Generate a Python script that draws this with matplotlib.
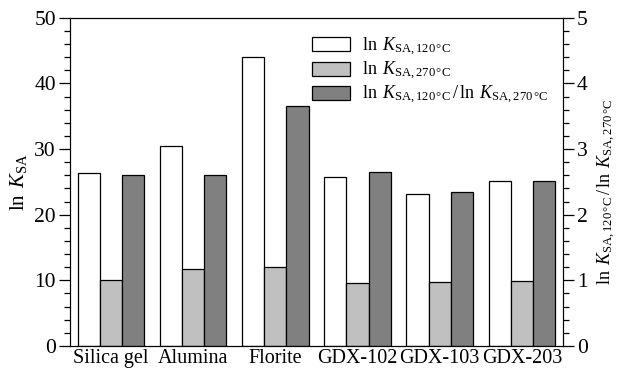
import numpy as np
import matplotlib
matplotlib.use("Agg")
import matplotlib.pyplot as plt
from matplotlib.ticker import MultipleLocator

plt.rcParams['font.family'] = 'Liberation Serif'
plt.rcParams['mathtext.fontset'] = 'custom'
plt.rcParams['mathtext.rm'] = 'Liberation Serif'
plt.rcParams['mathtext.it'] = 'Liberation Serif:italic'

sorbents = ["Silica gel", "Alumina", "Florite", "GDX-102", "GDX-103", "GDX-203"]
lnK_120 = [26.3, 30.5, 44.1, 25.7, 23.2, 25.1]
lnK_270 = [10.1, 11.7, 12.0, 9.6, 9.8, 9.9]
ratio = [2.61, 2.60, 3.65, 2.65, 2.35, 2.51]

lab120 = r"$\ln\ K_{\rm SA,120\,°C}$"
lab270 = r"$\ln\ K_{\rm SA,270\,°C}$"
labratio = r"$\ln\ K_{\rm SA,120\,°C}\,/\,\ln\ K_{\rm SA,270\,°C}$"

x = np.arange(len(sorbents))
w = 0.27

fig, ax = plt.subplots(figsize=(6.18, 3.72), dpi=100)
fig.subplots_adjust(left=0.113, right=0.911, top=0.952, bottom=0.07)
ax2 = ax.twinx()

b1 = ax.bar(x - w, lnK_120, w, color='white', edgecolor='black', linewidth=0.9, label=lab120)
b2 = ax.bar(x, lnK_270, w, color='#c0c0c0', edgecolor='black', linewidth=0.9, label=lab270)
b3 = ax2.bar(x + w, ratio, w, color='#808080', edgecolor='black', linewidth=0.9, label=labratio)

ax.set_xlim(-0.5, 5.5)
ax.set_ylim(0, 50)
ax2.set_ylim(0, 5)
ax.set_xticks(x)
ax.set_xticklabels(sorbents, fontsize=14.5)
ax.tick_params(axis='x', length=0, pad=2)
ax.yaxis.set_major_locator(MultipleLocator(10))
ax.yaxis.set_minor_locator(MultipleLocator(2))
ax2.yaxis.set_major_locator(MultipleLocator(1))
ax2.yaxis.set_minor_locator(MultipleLocator(0.2))
for a in (ax, ax2):
    a.tick_params(axis='y', which='major', direction='out', length=8, width=0.9, labelsize=15.5, pad=2)
    a.tick_params(axis='y', which='minor', direction='out', length=4, width=0.9)

ax.set_ylabel(r"$\ln\ K_{\rm SA}$", fontsize=15, labelpad=4)
ax2.set_ylabel(labratio, fontsize=13)
ax2.yaxis.set_label_coords(1.067, 0.47)

ax.legend([b1, b2, b3], [lab120, lab270, labratio], loc='upper left',
          bbox_to_anchor=(0.465, 0.985), frameon=False, fontsize=13,
          handlelength=2.1, handleheight=0.8, labelspacing=0.12, borderpad=0.2, handletextpad=0.7)

fig.savefig("out.png", dpi=100)
